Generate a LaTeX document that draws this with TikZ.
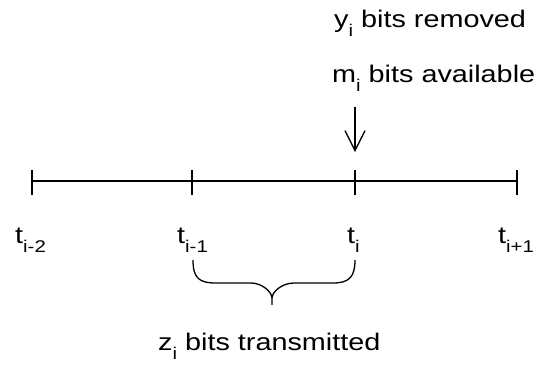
\documentclass[tikz,border=0pt]{standalone}
\usepackage{fontspec}
\setmainfont[FakeStretch=1.2]{Liberation Sans}
\usetikzlibrary{arrows.meta}
\newcommand\sbi[1]{\raisebox{-0.38em}{\fontsize{17}{17}\selectfont #1}}
\tikzset{
  lbl/.style={inner sep=0pt, anchor=base west, font=\fontsize{24}{28}\selectfont},
  axis/.style={line width=1.3pt, black},
  tickmark/.style={line width=1.3pt, black},
  arr/.style={line width=1.3pt, -{Straight Barb[length=20pt,width=20pt,line width=1.3pt]}},
  bracepath/.style={line width=1.3pt, line join=round}
}
\begin{document}
\begin{tikzpicture}[x=1pt,y=-1pt]
\useasboundingbox (0,0) rectangle (542,365);
% tick coordinates
\coordinate (p0) at (32,181);
\coordinate (p1) at (192,181);
\coordinate (p2) at (355,181);
\coordinate (p3) at (517,181);
% axis
\draw[axis] (p0) -- (p3);
\foreach \p in {p0,p1,p2,p3}{
  \draw[tickmark] ([yshift=-14pt]\p) -- ([yshift=11pt]\p);
}
% labels
\node[lbl] (t0) at (15,243) {t\sbi{i-2}};
\node[lbl] (t1) at (177,243) {t\sbi{i-1}};
\node[lbl] (t2) at (347,243) {t\sbi{i}};
\node[lbl] (t3) at (498,243) {t\sbi{i+1}};
% top texts
\node[lbl] (y) at (334,27) {y\sbi{i} bits removed};
\node[lbl] (m) at (332,82) {m\sbi{i} bits available};
% arrow
\coordinate (atop) at (355,107);
\coordinate (atip) at (355,152);
\draw[arr] (atop) -- (atip);
% brace
\draw[bracepath] (193,260) .. controls (193,279) and (200,283) .. (216,283)
  -- (251,283) .. controls (262,283) and (272,292) .. (272,298) -- (272,305)
  (272,298) .. controls (272,292) and (282,283) .. (294,283)
  -- (333,283) .. controls (349,283) and (355,277) .. (355,260);
% bottom text
\node[lbl] (z) at (158,350) {z\sbi{i} bits transmitted};
\end{tikzpicture}
\end{document}
